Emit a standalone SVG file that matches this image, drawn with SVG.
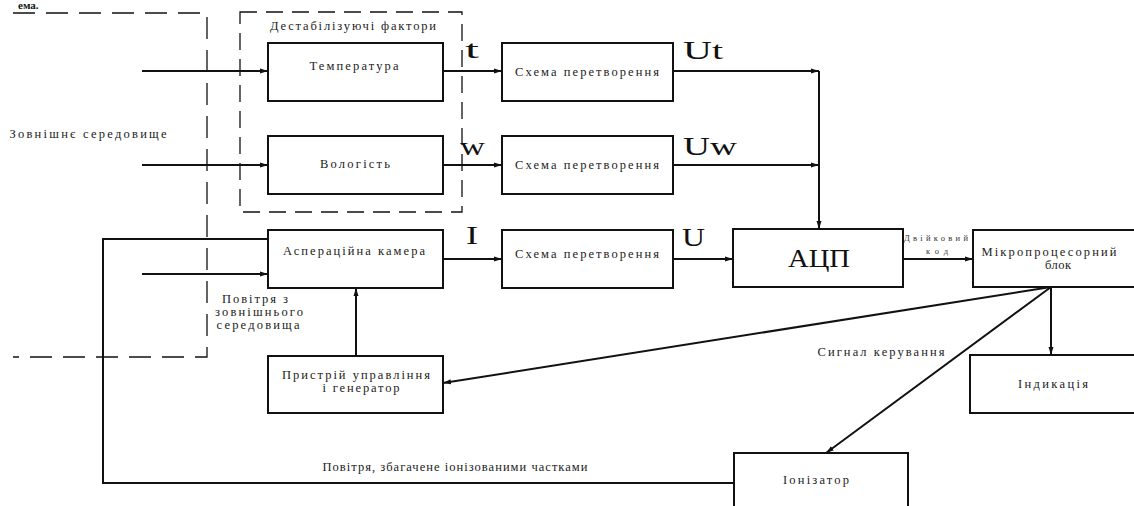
<svg xmlns="http://www.w3.org/2000/svg" width="1134" height="506" viewBox="0 0 1134 506">
<style>
.box{fill:#fff;stroke:#111;stroke-width:2}
.ln{fill:none;stroke:#111;stroke-width:2}
.arr{marker-end:url(#ah)}
.dash{fill:none;stroke:#111;stroke-width:1.3;stroke-dasharray:22 11}
.dash2{fill:none;stroke:#111;stroke-width:1.3;stroke-dasharray:17 9}
.s{font-family:"Liberation Serif","DejaVu Serif",serif;font-size:12.5px;fill:#222;text-anchor:middle;font-weight:500}
.b{font-family:"Liberation Serif","DejaVu Serif",serif;font-size:25px;fill:#111}
.t{font-family:"Liberation Serif","DejaVu Serif",serif;font-size:8.5px;fill:#333;text-anchor:middle}
</style>
<defs>
<marker id="ah" viewBox="0 0 8 6" refX="8" refY="3" markerWidth="8" markerHeight="6" markerUnits="userSpaceOnUse" orient="auto">
<path d="M0,0.5 L8,3 L0,5.5 Z" fill="#111"/>
</marker>
</defs>
<rect width="1134" height="506" fill="#fff"/>
<text x="18" y="9" font-family="Liberation Serif, serif" font-size="11" font-weight="bold" fill="#111">ема.</text>

<g id="frames">
<path class="dash" d="M13,13 H207 V357 H13"/>
<rect class="dash2" x="240" y="12" width="222" height="200"/>
<text class="s" x="353" y="30" textLength="166" lengthAdjust="spacing">Дестабілізуючі фактори</text>
<text class="s" x="88" y="138" textLength="157" lengthAdjust="spacing">Зовнішнє середовище</text>
</g>

<g id="connectors">
<line class="ln arr" x1="142" y1="71" x2="268" y2="71"/>
<line class="ln arr" x1="142" y1="165" x2="268" y2="165"/>
<line class="ln arr" x1="142" y1="274" x2="268" y2="274"/>
<line class="ln arr" x1="443" y1="71" x2="502" y2="71"/>
<line class="ln arr" x1="443" y1="165" x2="502" y2="165"/>
<line class="ln arr" x1="443" y1="259" x2="502" y2="259"/>
<line class="ln arr" x1="673" y1="71" x2="819" y2="71"/>
<line class="ln arr" x1="673" y1="165" x2="819" y2="165"/>
<line class="ln arr" x1="819" y1="71" x2="819" y2="229"/>
<line class="ln arr" x1="673" y1="259" x2="733" y2="259"/>
<line class="ln arr" x1="903" y1="259" x2="973" y2="259"/>
<line class="ln arr" x1="1051" y1="287" x2="1051" y2="355"/>
<line class="ln arr" x1="1051" y1="287" x2="443" y2="383"/>
<line class="ln arr" x1="1051" y1="287" x2="826" y2="453"/>
<line class="ln arr" x1="356" y1="356" x2="356" y2="288"/>
<path class="ln" d="M734,483 H103 V239 H268"/>
<text class="b" x="465" y="58" textLength="14" lengthAdjust="spacingAndGlyphs">t</text>
<text class="b" x="460" y="155" textLength="25" lengthAdjust="spacingAndGlyphs">w</text>
<text class="b" x="466" y="244" textLength="12" lengthAdjust="spacingAndGlyphs">I</text>
<text class="b" x="683" y="59" textLength="40" lengthAdjust="spacingAndGlyphs">Ut</text>
<text class="b" x="683" y="155" textLength="54" lengthAdjust="spacingAndGlyphs">Uw</text>
<text class="b" x="682" y="246" textLength="23" lengthAdjust="spacingAndGlyphs">U</text>
<text class="t" x="936" y="241" textLength="64" lengthAdjust="spacing">Двійковий</text>
<text class="t" x="937" y="254" textLength="22" lengthAdjust="spacing">код</text>
<text class="s" x="255" y="303" textLength="66" lengthAdjust="spacing">Повітря з</text>
<text class="s" x="259" y="316" textLength="88" lengthAdjust="spacing">зовнішнього</text>
<text class="s" x="258" y="329" textLength="83" lengthAdjust="spacing">середовища</text>
<text class="s" x="455" y="471" textLength="265" lengthAdjust="spacing">Повітря, збагачене іонізованими частками</text>
<text class="s" x="881" y="356" textLength="127" lengthAdjust="spacing">Сигнал керування</text>
</g>

<g id="temp">
<rect class="box" x="268" y="43" width="175" height="58"/>
<text class="s" x="354" y="70" textLength="89" lengthAdjust="spacing">Температура</text>
</g>
<g id="hum">
<rect class="box" x="268" y="136" width="175" height="58"/>
<text class="s" x="355" y="168" textLength="70" lengthAdjust="spacing">Вологість</text>
</g>
<g id="asp">
<rect class="box" x="268" y="230" width="175" height="58"/>
<text class="s" x="354" y="255" textLength="142" lengthAdjust="spacing">Асперацiйна камера</text>
</g>
<g id="conv1">
<rect class="box" x="502" y="43" width="171" height="58"/>
<text class="s" x="587" y="76" textLength="144" lengthAdjust="spacing">Схема перетворення</text>
</g>
<g id="conv2">
<rect class="box" x="502" y="136" width="171" height="58"/>
<text class="s" x="587" y="169" textLength="144" lengthAdjust="spacing">Схема перетворення</text>
</g>
<g id="conv3">
<rect class="box" x="502" y="230" width="171" height="58"/>
<text class="s" x="587" y="258" textLength="144" lengthAdjust="spacing">Схема перетворення</text>
</g>
<g id="adc">
<rect class="box" x="733" y="229" width="170" height="58"/>
<text class="b" x="819" y="267" text-anchor="middle" font-size="24" textLength="62" lengthAdjust="spacingAndGlyphs">АЦП</text>
</g>
<g id="mcu">
<rect class="box" x="973" y="230" width="170" height="57"/>
<text class="s" x="1049" y="256" textLength="135" lengthAdjust="spacing">Мікропроцесорний</text>
<text class="s" x="1058" y="269" textLength="26" lengthAdjust="spacing">блок</text>
</g>
<g id="ctrl">
<rect class="box" x="268" y="356" width="175" height="57"/>
<text class="s" x="356" y="379" textLength="148" lengthAdjust="spacing">Пристрій управління</text>
<text class="s" x="361" y="392" textLength="77" lengthAdjust="spacing">і генератор</text>
</g>
<g id="ind">
<rect class="box" x="970" y="355" width="170" height="58"/>
<text class="s" x="1053" y="388" textLength="70" lengthAdjust="spacing">Індикація</text>
</g>
<g id="ion">
<rect class="box" x="734" y="453" width="174" height="60"/>
<text class="s" x="816" y="484" textLength="66" lengthAdjust="spacing">Іонізатор</text>
</g>
</svg>
